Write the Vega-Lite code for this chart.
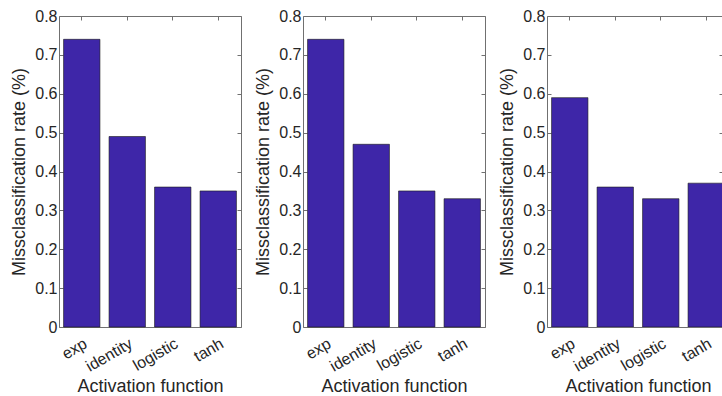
{
  "$schema": "https://vega.github.io/schema/vega-lite/v6.json",
  "background": "white",
  "padding": {"left": 10, "top": 7, "right": 0, "bottom": 0},
  "spacing": 62,
  "bounds": "flush",
  "config": {
    "view": {"stroke": "#707070", "strokeWidth": 1},
    "font": "Liberation Sans",
    "axis": {
      "labelFont": "Liberation Sans",
      "titleFont": "Liberation Sans",
      "labelColor": "#262626",
      "titleColor": "#262626",
      "titleFontWeight": "normal",
      "grid": false,
      "domain": false,
      "tickColor": "#707070",
      "tickSize": -4
    }
  },
  "datasets": {
    "d": [
      {"panel": 1, "func": "exp", "rate": 0.74},
      {"panel": 1, "func": "identity", "rate": 0.49},
      {"panel": 1, "func": "logistic", "rate": 0.36},
      {"panel": 1, "func": "tanh", "rate": 0.35},
      {"panel": 2, "func": "exp", "rate": 0.74},
      {"panel": 2, "func": "identity", "rate": 0.47},
      {"panel": 2, "func": "logistic", "rate": 0.35},
      {"panel": 2, "func": "tanh", "rate": 0.33},
      {"panel": 3, "func": "exp", "rate": 0.59},
      {"panel": 3, "func": "identity", "rate": 0.36},
      {"panel": 3, "func": "logistic", "rate": 0.33},
      {"panel": 3, "func": "tanh", "rate": 0.37}
    ]
  },
  "hconcat": [
    {
      "width": 182, "height": 311,
      "data": {"name": "d"},
      "transform": [{"filter": "datum.panel == 1"}],
      "layer": [
        {"mark": {"type": "bar", "fill": "#3e26a8", "stroke": "#1a1a1a", "strokeWidth": 0.6},
         "encoding": {
           "x": {"field": "func", "type": "nominal", "sort": null, "scale": {"paddingInner": 0.2, "paddingOuter": 0.1},
                 "axis": {"orient": "bottom", "title": "Activation function", "labelAngle": -30, "labelAlign": "right", "labelBaseline": "top", "labelFontSize": 16, "labelPadding": 12, "titleFontSize": 18, "titlePadding": 3}},
           "y": {"field": "rate", "type": "quantitative", "scale": {"domain": [0, 0.8], "nice": false},
                 "axis": {"orient": "left", "title": "Missclassification rate (%)", "values": [0, 0.1, 0.2, 0.3, 0.4, 0.5, 0.6, 0.7, 0.8], "format": ".1~f", "labelFontSize": 16, "labelPadding": 6, "titleFontSize": 18, "titlePadding": 6}}
         }},
        {"mark": {"type": "bar", "opacity": 0},
         "encoding": {
           "x": {"field": "func", "type": "nominal", "sort": null, "axis": {"orient": "top", "labels": false, "title": null}},
           "y": {"field": "rate", "type": "quantitative", "axis": {"orient": "right", "labels": false, "title": null, "values": [0, 0.1, 0.2, 0.3, 0.4, 0.5, 0.6, 0.7, 0.8]}}
         }}
      ],
      "resolve": {"axis": {"x": "independent", "y": "independent"}}
    },
    {
      "width": 182, "height": 311,
      "data": {"name": "d"},
      "transform": [{"filter": "datum.panel == 2"}],
      "layer": [
        {"mark": {"type": "bar", "fill": "#3e26a8", "stroke": "#1a1a1a", "strokeWidth": 0.6},
         "encoding": {
           "x": {"field": "func", "type": "nominal", "sort": null, "scale": {"paddingInner": 0.2, "paddingOuter": 0.1},
                 "axis": {"orient": "bottom", "title": "Activation function", "labelAngle": -30, "labelAlign": "right", "labelBaseline": "top", "labelFontSize": 16, "labelPadding": 12, "titleFontSize": 18, "titlePadding": 3}},
           "y": {"field": "rate", "type": "quantitative", "scale": {"domain": [0, 0.8], "nice": false},
                 "axis": {"orient": "left", "title": "Missclassification rate (%)", "values": [0, 0.1, 0.2, 0.3, 0.4, 0.5, 0.6, 0.7, 0.8], "format": ".1~f", "labelFontSize": 16, "labelPadding": 6, "titleFontSize": 18, "titlePadding": 6}}
         }},
        {"mark": {"type": "bar", "opacity": 0},
         "encoding": {
           "x": {"field": "func", "type": "nominal", "sort": null, "axis": {"orient": "top", "labels": false, "title": null}},
           "y": {"field": "rate", "type": "quantitative", "axis": {"orient": "right", "labels": false, "title": null, "values": [0, 0.1, 0.2, 0.3, 0.4, 0.5, 0.6, 0.7, 0.8]}}
         }}
      ],
      "resolve": {"axis": {"x": "independent", "y": "independent"}}
    },
    {
      "width": 176, "height": 311,
      "data": {"name": "d"},
      "transform": [{"filter": "datum.panel == 3"}],
      "layer": [
        {"mark": {"type": "bar", "fill": "#3e26a8", "stroke": "#1a1a1a", "strokeWidth": 0.6, "clip": true},
         "encoding": {
           "x": {"field": "func", "type": "nominal", "sort": null, "scale": {"paddingInner": 0.2, "paddingOuter": 0.1, "range": [0, 182]},
                 "axis": {"orient": "bottom", "title": "Activation function", "labelAngle": -30, "labelAlign": "right", "labelBaseline": "top", "labelFontSize": 16, "labelPadding": 12, "titleFontSize": 18, "titlePadding": 3, "titleX": 91}},
           "y": {"field": "rate", "type": "quantitative", "scale": {"domain": [0, 0.8], "nice": false},
                 "axis": {"orient": "left", "title": "Missclassification rate (%)", "values": [0, 0.1, 0.2, 0.3, 0.4, 0.5, 0.6, 0.7, 0.8], "format": ".1~f", "labelFontSize": 16, "labelPadding": 6, "titleFontSize": 18, "titlePadding": 6}}
         }},
        {"mark": {"type": "bar", "opacity": 0, "clip": true},
         "encoding": {
           "x": {"field": "func", "type": "nominal", "sort": null, "axis": {"orient": "top", "labels": false, "title": null}},
           "y": {"field": "rate", "type": "quantitative", "axis": {"orient": "right", "labels": false, "title": null, "values": [0, 0.1, 0.2, 0.3, 0.4, 0.5, 0.6, 0.7, 0.8]}}
         }}
      ],
      "resolve": {"axis": {"x": "independent", "y": "independent"}}
    }
  ]
}
